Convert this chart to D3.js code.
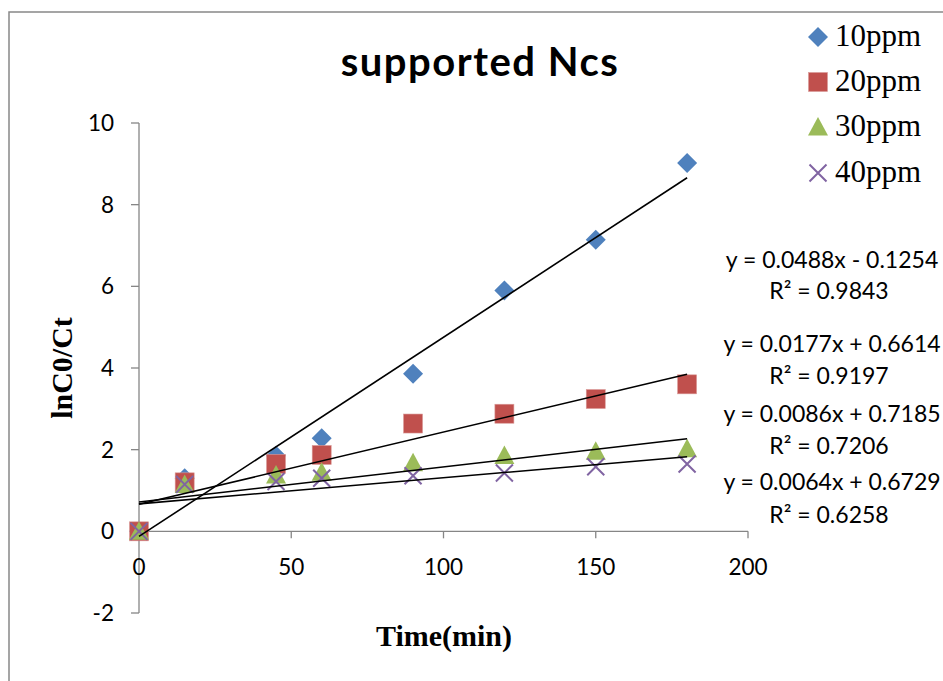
<!DOCTYPE html>
<html>
<head>
<meta charset="utf-8">
<script src="https://cdn.jsdelivr.net/npm/d3@7"></script>
<style>
  html, body { margin: 0; padding: 0; background: #fff; }
  svg { display: block; }
</style>
</head>
<body>
<svg id="chart" width="943" height="681"></svg>
<script>
// ---- data ----
const times = [0, 15, 45, 60, 90, 120, 150, 180];
const series10 = [0, 1.3, 1.85, 2.28, 3.86, 5.9, 7.14, 9.02];
const series20 = [0, 1.2, 1.65, 1.87, 2.64, 2.88, 3.24, 3.6];
const series30 = [0, 1.15, 1.38, 1.45, 1.68, 1.86, 1.96, 2.02];
const series40 = [0, 1.15, 1.22, 1.3, 1.36, 1.43, 1.58, 1.65];
const seriesNames = ["10ppm", "20ppm", "30ppm", "40ppm"];
const slopes = [0.0488, 0.0177, 0.0086, 0.0064];
const intercepts = [-0.1254, 0.6614, 0.7185, 0.6729];
const equationLabels = ["y = 0.0488x - 0.1254", "y = 0.0177x + 0.6614", "y = 0.0086x + 0.7185", "y = 0.0064x + 0.6729"];
const r2Labels = ["R² = 0.9843", "R² = 0.9197", "R² = 0.7206", "R² = 0.6258"];
const xTicks = [0, 50, 100, 150, 200];
const yTicks = [-2, 0, 2, 4, 6, 8, 10];
const titleText = "supported Ncs";
const xTitle = "Time(min)";
const yTitle = "lnC0/Ct";

const allSeries = [series10, series20, series30, series40];
const colors = ["#4F81BD", "#C0504D", "#9BBB59", "#8064A2"];
const shapes = ["diamond", "square", "triangle", "cross"];

const svg = d3.select("#chart");
const axisColor = "#868686";
const sansFont = "Lato, 'Open Sans', sans-serif";
const serifFont = "'Liberation Serif', 'Times New Roman', serif";

// outer frame
svg.append("rect").attr("x", 9).attr("y", 12).attr("width", 1000).attr("height", 1000)
  .attr("fill", "none").attr("stroke", "#888").attr("stroke-width", 1.5);

const x = d3.scaleLinear().domain([0, 200]).range([139, 748]);
const y = d3.scaleLinear().domain([-2, 10]).range([613, 123]);

// y axis
const yAxis = svg.append("g");
yAxis.append("line").attr("x1", x(0)).attr("x2", x(0)).attr("y1", y(-2)).attr("y2", y(10))
  .attr("stroke", axisColor).attr("stroke-width", 1.3);
yAxis.selectAll("line.tick").data(yTicks).join("line").attr("class", "tick")
  .attr("x1", x(0) - 8).attr("x2", x(0)).attr("y1", d => y(d)).attr("y2", d => y(d))
  .attr("stroke", axisColor).attr("stroke-width", 1.3);
yAxis.selectAll("text").data(yTicks).join("text")
  .attr("x", 114).attr("y", d => y(d)).attr("dy", "0.36em")
  .attr("text-anchor", "end").attr("font-family", sansFont)
  .attr("font-size", 22.5).attr("fill", "#000").text(d => d);

// x axis
const xAxis = svg.append("g");
xAxis.append("line").attr("x1", x(0)).attr("x2", x(200)).attr("y1", y(0)).attr("y2", y(0))
  .attr("stroke", axisColor).attr("stroke-width", 1.3);
xAxis.selectAll("line.tick").data(xTicks).join("line").attr("class", "tick")
  .attr("x1", d => x(d)).attr("x2", d => x(d)).attr("y1", y(0)).attr("y2", y(0) + 7)
  .attr("stroke", axisColor).attr("stroke-width", 1.3);
xAxis.selectAll("text").data(xTicks).join("text")
  .attr("x", d => x(d)).attr("y", y(0) + 44)
  .attr("text-anchor", "middle").attr("font-family", sansFont)
  .attr("font-size", 22.5).attr("fill", "#000").text(d => d);

// marker drawing
function drawMarker(g, shape, color, cx, cy, s) {
  const h = s / 2;
  if (shape === "diamond") {
    g.append("path").attr("d", `M${cx},${cy - h}L${cx + h},${cy}L${cx},${cy + h}L${cx - h},${cy}Z`)
      .attr("fill", color);
  } else if (shape === "square") {
    g.append("rect").attr("x", cx - h * 0.95).attr("y", cy - h * 0.95)
      .attr("width", s * 0.95).attr("height", s * 0.95).attr("fill", color)
      .attr("stroke", "#d99a98").attr("stroke-width", 0.6);
  } else if (shape === "triangle") {
    g.append("path").attr("d", `M${cx},${cy - h}L${cx + h},${cy + h * 0.85}L${cx - h},${cy + h * 0.85}Z`)
      .attr("fill", color);
  } else {
    const k = h * 0.85;
    g.append("path").attr("d", `M${cx - k},${cy - k}L${cx + k},${cy + k}M${cx - k},${cy + k}L${cx + k},${cy - k}`)
      .attr("stroke", color).attr("stroke-width", 2).attr("fill", "none");
  }
}

// points
const pts = svg.append("g");
allSeries.forEach((vals, i) => {
  vals.forEach((v, j) => drawMarker(pts, shapes[i], colors[i], x(times[j]), y(v), 20));
});

// trendlines
const trend = svg.append("g");
slopes.forEach((m, i) => {
  const x0 = 0, x1 = 180;
  trend.append("line")
    .attr("x1", x(x0)).attr("y1", y(m * x0 + intercepts[i]))
    .attr("x2", x(x1)).attr("y2", y(m * x1 + intercepts[i]))
    .attr("stroke", "#000").attr("stroke-width", 1.6);
});

// equations
const eqY = [268, 352, 422, 490];
const r2Y = [299, 384, 454, 523];
const eqG = svg.append("g").attr("font-family", sansFont).attr("font-size", 23).attr("fill", "#000");
equationLabels.forEach((t, i) => {
  eqG.append("text").attr("x", 832).attr("y", eqY[i]).attr("text-anchor", "middle").text(t);
  eqG.append("text").attr("x", 829).attr("y", r2Y[i]).attr("text-anchor", "middle").text(r2Labels[i]);
});

// title
svg.append("text").attr("x", 480).attr("y", 76).attr("text-anchor", "middle")
  .attr("font-family", sansFont).attr("font-weight", "bold")
  .attr("font-size", 40).attr("letter-spacing", 1.5).attr("fill", "#000").text(titleText);

// axis titles
svg.append("text").attr("x", 444).attr("y", 646).attr("text-anchor", "middle")
  .attr("font-family", serifFont).attr("font-weight", "bold")
  .attr("font-size", 30).attr("fill", "#000").text(xTitle);
svg.append("text").attr("transform", "translate(72,368) rotate(-90)").attr("text-anchor", "middle")
  .attr("font-family", serifFont).attr("font-weight", "bold")
  .attr("font-size", 30).attr("fill", "#000").text(yTitle);

// legend
const legY = [37, 82, 127, 173];
const leg = svg.append("g");
seriesNames.forEach((n, i) => {
  drawMarker(leg, shapes[i], colors[i], 818, legY[i], 20);
  leg.append("text").attr("x", 835).attr("y", legY[i] + 9)
    .attr("font-family", serifFont)
    .attr("font-size", 31).attr("fill", "#000").text(n);
});
</script>
</body>
</html>
